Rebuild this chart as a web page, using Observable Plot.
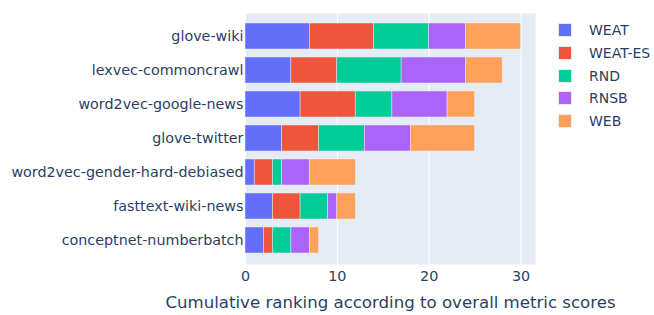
<!DOCTYPE html>
<html>
<head>
<meta charset="utf-8">
<script src="https://cdn.jsdelivr.net/npm/d3@7"></script>
<script src="https://cdn.jsdelivr.net/npm/@observablehq/plot@0.6"></script>
<style>
  body { margin: 0; background: #fff; font-family: "DejaVu Sans", Verdana, sans-serif; }
  #wrap { position: relative; width: 654px; height: 315px; }
  #legend { position: absolute; left: 558px; top: 20px; color: #2a3f5f; font-size: 14px; }
  .item { position: absolute; left: 0; height: 20px; white-space: nowrap; }
  .sw { position: absolute; left: 0; top: 3px; width: 14px; height: 14px; box-sizing: border-box; border: 0.5px solid #E5ECF6; }
  .lb { position: absolute; left: 31px; top: 0; line-height: 20px; }
</style>
</head>
<body>
<div id="wrap"></div>
<script>
const models = ["glove-wiki", "lexvec-commoncrawl", "word2vec-google-news", "glove-twitter",
                "word2vec-gender-hard-debiased", "fasttext-wiki-news", "conceptnet-numberbatch"];
const metrics = ["WEAT", "WEAT-ES", "RND", "RNSB", "WEB"];
const colors = ["#636EFA", "#EF553B", "#00CC96", "#AB63FA", "#FFA15A"];
const WEAT    = [7, 5, 6, 4, 1, 3, 2];
const WEAT_ES = [7, 5, 6, 4, 2, 3, 1];
const RND     = [6, 7, 4, 5, 1, 3, 2];
const RNSB    = [4, 7, 6, 5, 3, 1, 2];
const WEB     = [6, 4, 3, 7, 5, 2, 1];
const xTicks = [0, 10, 20, 30];
const xTitle = "Cumulative ranking according to overall metric scores";

const series = [WEAT, WEAT_ES, RND, RNSB, WEB];
const data = [];
metrics.forEach((m, j) => models.forEach((name, i) => data.push({model: name, metric: m, value: series[j][i]})));

const ink = "#2a3f5f";
const chart = Plot.plot({
  width: 654,
  height: 315,
  marginLeft: 245,
  marginRight: 119,
  marginTop: 13,
  marginBottom: 51,
  style: {fontFamily: "'DejaVu Sans', Verdana, sans-serif", fontSize: "14px", color: ink, background: "white"},
  x: {domain: [0, 31.58]},
  y: {domain: models, padding: 0.23},
  color: {domain: metrics, range: colors},
  marks: [
    Plot.frame({fill: "#E5ECF6", stroke: null}),
    Plot.gridX(xTicks, {stroke: "white", strokeOpacity: 1, strokeWidth: 1}),
    Plot.barX(data, Plot.stackX({y: "model", x: "value", fill: "metric", stroke: "#E5ECF6", strokeWidth: 0.5})),
    Plot.axisY({tickSize: 0, tickPadding: 2, label: null, fontSize: 14.3, fill: ink}),
    Plot.axisX({ticks: xTicks, tickSize: 0, tickPadding: 6, label: null, fontSize: 14.3, fill: ink}),
    Plot.text([xTitle], {frameAnchor: "bottom", dy: 43, text: d => d, fontSize: 16.6, fill: ink})
  ]
});
document.getElementById("wrap").appendChild(chart);

const legend = document.createElement("div");
legend.id = "legend";
metrics.forEach((m, j) => {
  const it = document.createElement("div");
  it.className = "item";
  it.style.top = (j * 22.8) + "px";
  const sw = document.createElement("div");
  sw.className = "sw";
  sw.style.background = colors[j];
  const lb = document.createElement("div");
  lb.className = "lb";
  lb.textContent = m;
  it.appendChild(sw); it.appendChild(lb);
  legend.appendChild(it);
});
document.getElementById("wrap").appendChild(legend);
</script>
</body>
</html>
